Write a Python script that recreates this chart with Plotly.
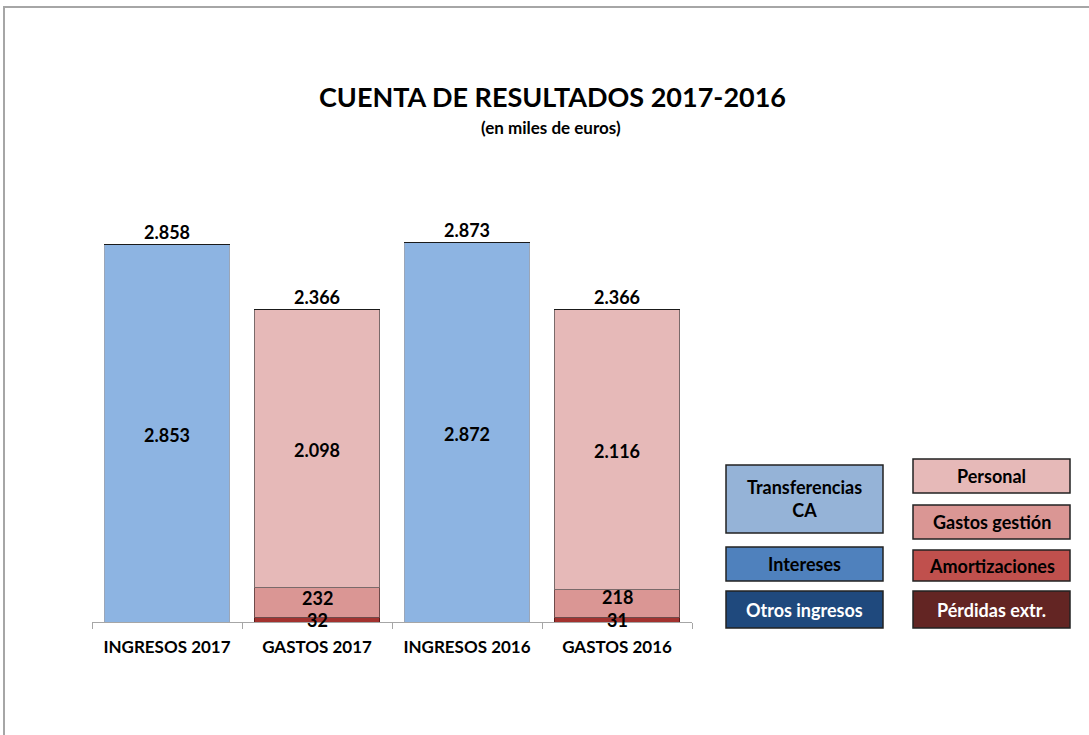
import plotly.graph_objects as go

# ---- data (miles de euros) ----
categories = ["INGRESOS 2017", "GASTOS 2017", "INGRESOS 2016", "GASTOS 2016"]
transferencias_ca = [2853, None, 2872, None]
intereses = [0, None, 0, None]
otros_ingresos = [5, None, 1, None]
amortizaciones = [None, 32, None, 31]
gastos_gestion = [None, 232, None, 218]
personal = [None, 2098, None, 2116]
perdidas_extr = [None, 4, None, 1]
totals = [2858, 2366, 2873, 2366]

# ---- layout geometry ----
W, H = 1089, 735
L, R, T, B = 92, 397, 150, 113
PW, PH = W - L - R, H - T - B
YMAX = 3569
FONT = "Lato"


def px_x(p):
    return (p - L) / PW


def px_y(p):
    return (H - B - p) / PH


series = [
    ("Transferencias CA", transferencias_ca, "#8db4e2", "#9aa6b8", True),
    ("Intereses", intereses, "#4f81bd", "#9aa6b8", False),
    ("Otros ingresos", otros_ingresos, "#1f3f6b", "#1a1a1a", False),
    ("Amortizaciones", amortizaciones, "#a3322f", "#5a1a18", True),
    ("Gastos gestión", gastos_gestion, "#da9694", "#6e4a4a", True),
    ("Personal", personal, "#e6b9b8", "#7a6a6a", True),
    ("Pérdidas extr.", perdidas_extr, "#632523", "#1a1a1a", False),
]

fig = go.Figure()
cum = [0.0] * len(categories)
annotations = []
for name, vals, color, lcolor, labelled in series:
    fig.add_trace(go.Bar(
        x=categories, y=vals, name=name,
        marker=dict(color=color, line=dict(color=lcolor, width=1)),
        showlegend=False, hoverinfo="skip",
    ))
    for i, v in enumerate(vals):
        if v is None:
            continue
        if labelled:
            if v > 1000:
                shift = -2
            elif v > 100:
                shift = 6 if v < 225 else 4
            else:
                shift = 0
            annotations.append(dict(
                x=categories[i], y=cum[i] + v / 2, xref="x", yref="y",
                xanchor="center", yanchor="middle",
                text="<b>" + f"{v:,.0f}".replace(",", ".") + "</b>",
                showarrow=False, font=dict(family=FONT, size=18, color="black"),
                yshift=shift,
            ))
        cum[i] += v

for i, t in enumerate(totals):
    annotations.append(dict(
        x=categories[i], y=t, xref="x", yref="y", xanchor="center", yanchor="bottom",
        text="<b>" + f"{t:,.0f}".replace(",", ".") + "</b>",
        showarrow=False, font=dict(family=FONT, size=18, color="black"),
        yshift=-1,
    ))

# title
annotations.append(dict(x=px_x(552), y=px_y(96), xref="paper", yref="paper",
                        xanchor="center", yanchor="middle",
                        text="<b>CUENTA DE RESULTADOS 2017-2016</b>", showarrow=False,
                        font=dict(family=FONT, size=27, color="black")))
annotations.append(dict(x=px_x(551), y=px_y(127), xref="paper", yref="paper",
                        xanchor="center", yanchor="middle",
                        text="<b>(en miles de euros)</b>", showarrow=False,
                        font=dict(family=FONT, size=17, color="black")))

# custom legend boxes
legend_boxes = [
    ("Transferencias<br>CA", "#95b3d7", "black", 726, 465, 883, 533),
    ("Intereses", "#4f81bd", "black", 726, 547, 883, 581),
    ("Otros ingresos", "#1f497d", "white", 726, 591, 883, 628),
    ("Personal", "#e6b9b8", "black", 913, 459, 1070, 493),
    ("Gastos gestión", "#da9694", "black", 913, 505, 1070, 539),
    ("Amortizaciones", "#c0504d", "black", 913, 550, 1070, 581),
    ("Pérdidas extr.", "#632523", "white", 913, 591, 1070, 628),
]
shapes = []
for text, fill, tcol, x0, y0, x1, y1 in legend_boxes:
    shapes.append(dict(type="rect", xref="paper", yref="paper",
                       x0=px_x(x0), x1=px_x(x1), y0=px_y(y1), y1=px_y(y0),
                       fillcolor=fill, line=dict(color="#222222", width=1.5)))
    annotations.append(dict(x=px_x((x0 + x1) / 2), y=px_y((y0 + y1) / 2),
                            xref="paper", yref="paper", xanchor="center", yanchor="middle",
                            text="<b>" + text + "</b>",
                            showarrow=False, font=dict(family=FONT, size=18, color=tcol)))

# outer frame (chart area border)
shapes.append(dict(type="rect", xref="paper", yref="paper",
                   x0=px_x(4), x1=px_x(W + 10), y0=px_y(H + 10), y1=px_y(7),
                   line=dict(color="#a6a6a6", width=2), fillcolor="rgba(0,0,0,0)"))

fig.update_layout(
    width=W, height=H,
    margin=dict(l=L, r=R, t=T, b=B),
    barmode="stack", bargap=0.167,
    plot_bgcolor="white", paper_bgcolor="white",
    separators=",.",
    annotations=annotations, shapes=shapes,
    xaxis=dict(type="category", categoryorder="array", categoryarray=categories,
               tickvals=categories, ticktext=["<b>" + c + "</b>" for c in categories],
               tickson="boundaries", ticks="outside", ticklen=6, tickcolor="#a6a6a6",
               ticklabelstandoff=10,
               showline=True, linecolor="#a6a6a6", linewidth=1,
               tickfont=dict(family=FONT, size=17, color="black"), showgrid=False),
    yaxis=dict(range=[0, YMAX], visible=False, showgrid=False),
)

fig.write_html("out.html", config={"displayModeBar": False},
               post_script="document.body.style.margin='0';document.body.style.overflow='hidden';")
